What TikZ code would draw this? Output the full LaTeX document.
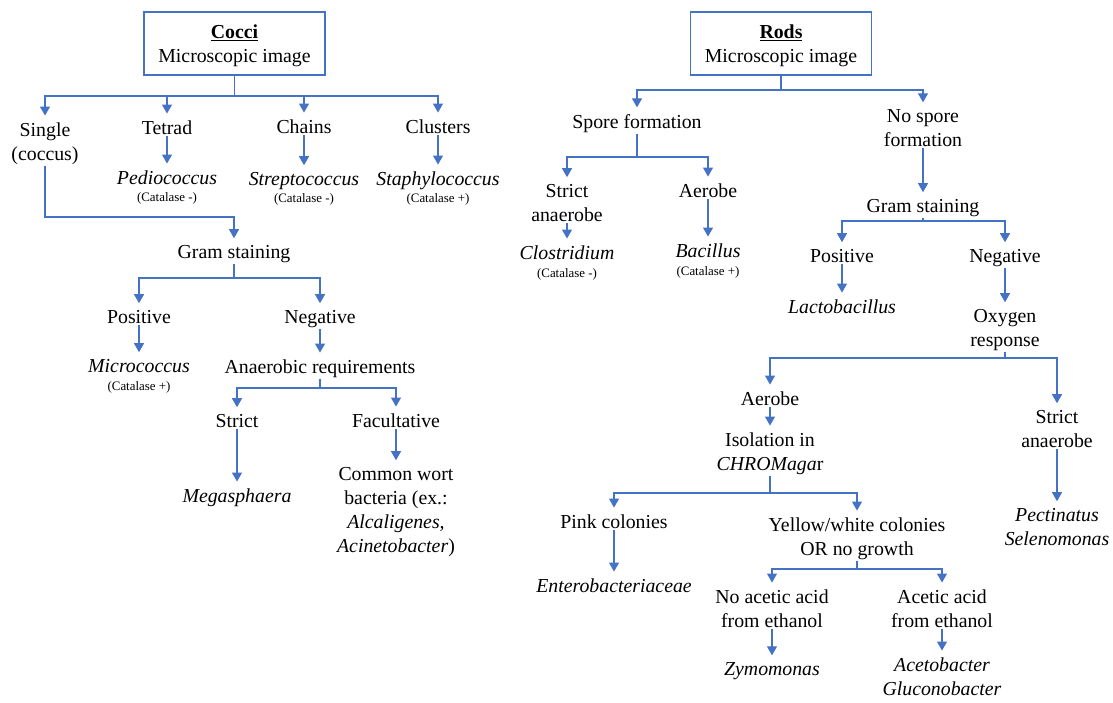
\documentclass[tikz,border=0pt]{standalone}
\usepackage{fontspec}
\setmainfont{Liberation Serif}
\usepackage{xcolor}
\usetikzlibrary{arrows.meta, positioning}
\definecolor{wordblue}{HTML}{4472C4}
\newcommand{\catal}[1]{{\fontsize{12.9}{15}\selectfont (Catalase #1)}}
\tikzstyle{arrow} = [wordblue, line width=1.1pt, -{Triangle[width=10pt,length=9pt]}, shorten >=5pt]

\begin{document}
\begin{tikzpicture}[
    x=1pt, y=-1pt,
    font=\fontsize{19.8}{24}\selectfont,
    txt/.style={align=center, anchor=base, inner sep=1.5pt},
    headbox/.style={rectangle, draw=wordblue, line width=1.5pt, minimum width=181pt, minimum height=63pt, align=center, inner sep=0pt, text depth=0pt, fill=white}
]
    \useasboundingbox (0,0) rectangle (1113,702);

    \node[headbox] (cocci) at (234.5,43.5) {\underline{\textbf{Cocci}}\\Microscopic image};
    \node[txt] (single) at (45,160) {Single\\(coccus)};
    \node[txt] (tetrad) at (167,134) {Tetrad};
    \node[txt] (chains) at (304,133) {Chains};
    \node[txt] (clusters) at (438,133) {Clusters};
    \node[txt] (pedio) at (167,201) {\textit{Pediococcus}\\[-7pt]\catal{-}};
    \node[txt] (strepto) at (304,202) {\textit{Streptococcus}\\[-7pt]\catal{-}};
    \node[txt] (staphylo) at (438,202) {\textit{Staphylococcus}\\[-7pt]\catal{+}};
    \node[txt] (gramL) at (234,258) {Gram staining};
    \node[txt] (posL) at (139,323) {Positive};
    \node[txt] (negL) at (320,323) {Negative};
    \node[txt] (micro) at (139,390) {\textit{Micrococcus}\\[-6pt]\catal{+}};
    \node[txt] (anaer) at (320,373) {Anaerobic requirements};
    \node[txt] (strictL) at (237,427) {Strict};
    \node[txt] (facult) at (396,427) {Facultative};
    \node[txt] (mega) at (237,502) {\textit{Megasphaera}};
    \node[txt] (wort) at (396,552) {Common wort\\bacteria (ex.:\\\textit{Alcaligenes,}\\\textit{Acinetobacter})};

    \node[headbox] (rods) at (781,43.5) {\underline{\textbf{Rods}}\\Microscopic image};
    \node[txt] (spore) at (637,128) {Spore formation};
    \node[txt] (nospore) at (923,146) {No spore\\formation};
    \node[txt] (strictS) at (567,221) {Strict\\anaerobe};
    \node[txt] (aerobeS) at (708,197) {Aerobe};
    \node[txt] (clost) at (567,277) {\textit{Clostridium}\\[-6pt]\catal{-}};
    \node[txt] (bacillus) at (708,275) {\textit{Bacillus}\\[-6pt]\catal{+}};
    \node[txt] (gramR) at (923,212) {Gram staining};
    \node[txt] (posR) at (842,262) {Positive};
    \node[txt] (negR) at (1005,262) {Negative};
    \node[txt] (lacto) at (842,313) {\textit{Lactobacillus}};
    \node[txt] (oxygen) at (1005,346) {Oxygen\\response};
    \node[txt] (aerobe) at (770,405) {Aerobe};
    \node[txt] (anaerobe) at (1057,447) {Strict\\anaerobe};
    \node[txt] (isolation) at (770,470) {Isolation in\\\textit{CHROMaga}r};
    \node[txt] (pect) at (1057,545) {\textit{Pectinatus}\\\textit{Selenomonas}};
    \node[txt] (pink) at (614,528) {Pink colonies};
    \node[txt] (yellow) at (857,555) {Yellow/white colonies\\OR no growth};
    \node[txt] (entero) at (614,592) {\textit{Enterobacteriaceae}};
    \node[txt] (noacetic) at (772,627) {No acetic acid\\from ethanol};
    \node[txt] (acetic) at (942,627) {Acetic acid\\from ethanol};
    \node[txt] (zymo) at (772,675) {\textit{Zymomonas}};
    \node[txt] (aceto) at (942,695) {\textit{Acetobacter}\\\textit{Gluconobacter}};

    \draw[arrow] (cocci.south) -- (cocci.south |- 0,96) -| (single);
    \draw[arrow] (cocci.south) -- (cocci.south |- 0,96) -| (tetrad);
    \draw[arrow] (cocci.south) -- (cocci.south |- 0,96) -| (chains);
    \draw[arrow] (cocci.south) -- (cocci.south |- 0,96) -| (clusters);
    \draw[arrow] (tetrad) -- (pedio);
    \draw[arrow] (chains) -- (strepto);
    \draw[arrow] (clusters) -- (staphylo);
    \draw[arrow] (single) -- (single.south |- 0,217) -| (gramL);
    \draw[arrow] (gramL) -- (gramL.south |- 0,278) -| (posL);
    \draw[arrow] (gramL) -- (gramL.south |- 0,278) -| (negL);
    \draw[arrow] (posL) -- (micro);
    \draw[arrow] (negL) -- (anaer);
    \draw[arrow] (anaer) -- (anaer.south |- 0,388) -| (strictL);
    \draw[arrow] (anaer) -- (anaer.south |- 0,388) -| (facult);
    \draw[arrow] (strictL) -- (mega);
    \draw[arrow] (facult) -- (wort);

    \draw[arrow] (rods.south) -- (rods.south |- 0,90) -| (spore);
    \draw[arrow] (rods.south) -- (rods.south |- 0,90) -| (nospore);
    \draw[arrow] (spore) -- (spore.south |- 0,157) -| (strictS);
    \draw[arrow] (spore) -- (spore.south |- 0,157) -| (aerobeS);
    \draw[arrow] (strictS) -- (clost);
    \draw[arrow] (aerobeS) -- (bacillus);
    \draw[arrow] (nospore) -- (gramR);
    \draw[arrow] (gramR) -- (gramR.south |- 0,221) -| (posR);
    \draw[arrow] (gramR) -- (gramR.south |- 0,221) -| (negR);
    \draw[arrow] (posR) -- (lacto);
    \draw[arrow] (negR) -- (oxygen);
    \draw[arrow] (oxygen) -- (oxygen.south |- 0,358) -| (aerobe);
    \draw[arrow] (oxygen) -- (oxygen.south |- 0,358) -| (anaerobe);
    \draw[arrow] (aerobe) -- (isolation);
    \draw[arrow] (anaerobe) -- (pect);
    \draw[arrow] (isolation) -- (isolation.south |- 0,493) -| (pink);
    \draw[arrow] (isolation) -- (isolation.south |- 0,493) -| (yellow);
    \draw[arrow] (pink) -- (entero);
    \draw[arrow] (yellow) -- (yellow.south |- 0,569) -| (noacetic);
    \draw[arrow] (yellow) -- (yellow.south |- 0,569) -| (acetic);
    \draw[arrow] (noacetic) -- (zymo);
    \draw[arrow] (acetic) -- (aceto);
\end{tikzpicture}
\end{document}
